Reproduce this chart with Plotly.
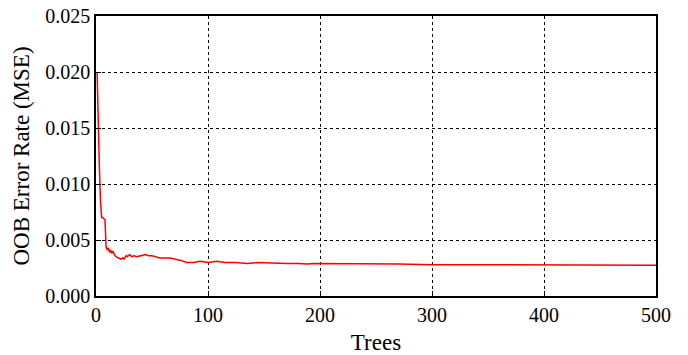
import plotly.graph_objects as go

trees = [1, 2, 3, 4, 5, 6, 7, 8, 9, 10, 11, 12, 13, 14, 15, 16, 17, 18, 20, 22, 24, 25, 27, 28,
         30, 32, 34, 36, 40, 44, 47, 50, 53, 57, 62, 66, 70, 75, 81, 87, 93, 100, 108, 115,
         125, 135, 145, 160, 170, 180, 188, 195, 210, 230, 250, 270, 300, 330, 360, 400,
         430, 460, 480, 500]
oob = [0.0200, 0.0150, 0.0115, 0.0085, 0.0070, 0.0070, 0.0069, 0.0068, 0.0044, 0.0041,
       0.0043, 0.0039, 0.0041, 0.0038, 0.0040, 0.0037, 0.0036, 0.0035, 0.0034, 0.0033,
       0.0034, 0.0033, 0.0036, 0.0035, 0.0037, 0.0035, 0.0036, 0.0035, 0.0036, 0.0037,
       0.0036, 0.0036, 0.0035, 0.0034, 0.0034, 0.0034, 0.0033, 0.0032, 0.0030, 0.0030,
       0.0031, 0.0030, 0.0031, 0.0030, 0.0030, 0.0029, 0.0030, 0.0029, 0.0029, 0.0029,
       0.00285, 0.0029, 0.0029, 0.0029, 0.00285, 0.00285, 0.0028, 0.0028, 0.0028, 0.0028,
       0.0028, 0.0028, 0.00275, 0.00275]

x_ticks = [0, 100, 200, 300, 400, 500]
y_ticks = [0.000, 0.005, 0.010, 0.015, 0.020, 0.025]
y_tick_labels = ["0.000", "0.005", "0.010", "0.015", "0.020", "0.025"]

font = "Liberation Serif"

fig = go.Figure(go.Scatter(x=trees, y=oob, mode="lines",
                           line=dict(color="#ff0000", width=1.5), showlegend=False))

axis_common = dict(
    showline=True, linecolor="black", linewidth=1.5, mirror=True,
    showgrid=True, gridcolor="black", gridwidth=1.3, griddash="3px,3px",
    ticks="inside", ticklen=5, tickcolor="black", tickwidth=1.3,
    zeroline=False, automargin=False, ticklabeloverflow="allow",
    tickfont=dict(family=font, size=20, color="black"),
)

fig.update_layout(
    width=688, height=355,
    margin=dict(l=96, r=32, t=16, b=59),
    paper_bgcolor="white", plot_bgcolor="white",
    font=dict(family=font, color="black"),
    xaxis=dict(range=[0, 500], tickvals=x_ticks, ticktext=[str(v) for v in x_ticks],
               title=dict(text="Trees", font=dict(family=font, size=23), standoff=11),
               **axis_common),
    yaxis=dict(range=[0, 0.025], tickvals=y_ticks, ticktext=y_tick_labels,
               title=dict(text="OOB Error Rate (MSE)", font=dict(family=font, size=23), standoff=9),
               **axis_common),
)

fig.write_html("out.html", config={"displayModeBar": False},
               post_script="document.body.style.margin='0';")
